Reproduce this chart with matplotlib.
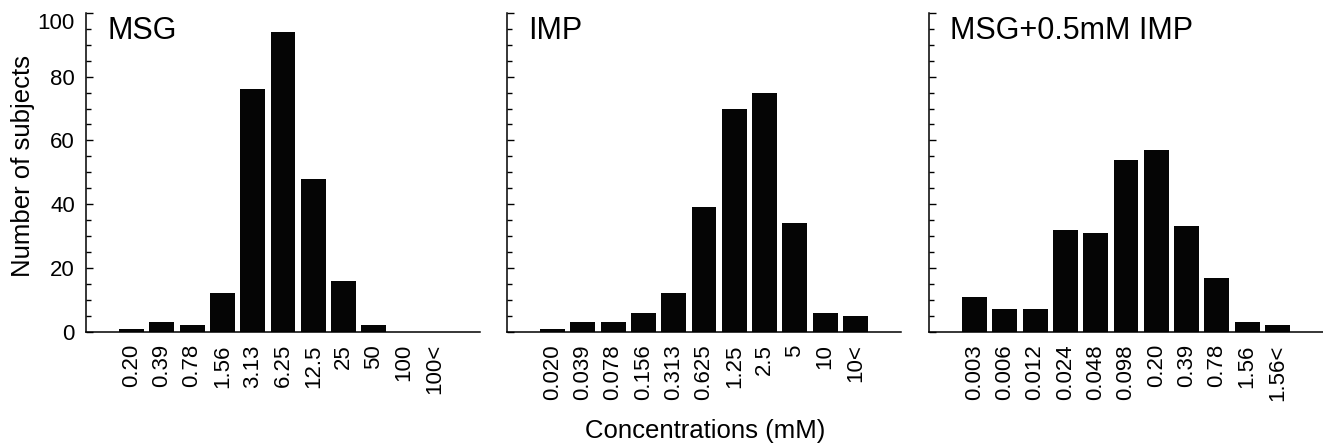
#Recreation of the three taste-threshold histograms (MSG, IMP, MSG+IMP)
import matplotlib.pyplot as plt
from matplotlib.ticker import MultipleLocator

plt.rcParams['font.family'] = ['Liberation Sans', 'DejaVu Sans']

#Concentration labels (mM) for each panel
msg_labels = ['0.20', '0.39', '0.78', '1.56', '3.13', '6.25', '12.5', '25', '50', '100', '100<']
imp_labels = ['0.020', '0.039', '0.078', '0.156', '0.313', '0.625', '1.25', '2.5', '5', '10', '10<']
mix_labels = ['0.003', '0.006', '0.012', '0.024', '0.048', '0.098', '0.20', '0.39', '0.78', '1.56', '1.56<']

#Number of subjects
msg_counts = [1, 3, 2, 12, 76, 94, 48, 16, 2, 0, 0]
imp_counts = [1, 3, 3, 6, 12, 39, 70, 75, 34, 6, 5]
mix_counts = [11, 7, 7, 32, 31, 54, 57, 33, 17, 3, 2]

titles = ['MSG', 'IMP', 'MSG+0.5mM IMP']
panels = [(msg_labels, msg_counts), (imp_labels, imp_counts), (mix_labels, mix_counts)]

W, H = 1323, 446
fig = plt.figure(figsize=(W / 100, H / 100), dpi=100)

lefts = [86, 507, 929]
ax_w = 394
ax_top, ax_bottom = 12.9, 331.7

for i, (labels, counts) in enumerate(panels):
    ax = fig.add_axes([lefts[i] / W, 1 - ax_bottom / H, ax_w / W, (ax_bottom - ax_top) / H])
    x = list(range(len(labels)))
    ax.bar(x, counts, width=0.82, color='#050505')
    ax.set_xlim(-1.5, len(labels) + 0.5)
    ax.set_ylim(0, 100)
    ax.set_xticks(x)
    ax.set_xticklabels(labels, rotation=90, fontsize=16)
    ax.tick_params(axis='x', length=0, pad=9)
    ax.set_yticks(range(0, 101, 20))
    ax.yaxis.set_minor_locator(MultipleLocator(5))
    ax.tick_params(axis='y', which='major', direction='in', length=5, width=1, labelsize=16, pad=8)
    ax.tick_params(axis='y', which='minor', direction='in', length=3.5, width=1)
    if i > 0:
        ax.tick_params(axis='y', labelleft=False)
    else:
        #top label sits just under the figure edge
        ax.get_yticklabels()[-1].set_va('top')
    for side in ['top', 'right']:
        ax.spines[side].set_visible(False)
    for side in ['left', 'bottom']:
        ax.spines[side].set_linewidth(1.1)
    ax.text(0.054, 0.943, titles[i], transform=ax.transAxes, fontsize=22, va='center', ha='left')

#Shared axis labels
fig.text(23 / W, 1 - 166 / H, 'Number of subjects', rotation=90, fontsize=18.5, ha='center', va='center')
fig.text(705 / W, 1 - 431 / H, 'Concentrations (mM)', fontsize=18.5, ha='center', va='center')

fig.savefig('out.png', dpi=100)
